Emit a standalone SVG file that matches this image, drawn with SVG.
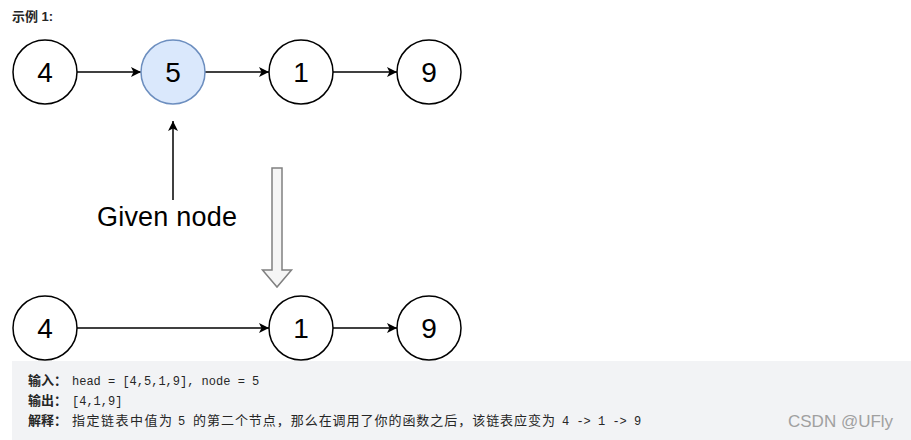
<svg xmlns="http://www.w3.org/2000/svg" width="911" height="440" viewBox="0 0 911 440">
<style>
.node{fill:#ffffff;stroke:#000000;stroke-width:1.5}
.sel{fill:#dae8fc;stroke:#6c8ebf;stroke-width:1.5}
.lbl{font-family:"Liberation Sans",Arial,sans-serif;font-size:28px;fill:#000000;text-anchor:middle}
.edge{stroke:#000000;stroke-width:1.5;fill:none}
.b{font-family:"Liberation Sans","Noto Sans CJK SC",sans-serif;font-size:13px;font-weight:bold;fill:#262626}
.cn{font-family:"Noto Sans CJK SC",sans-serif;font-size:13px;fill:#262626}
.code{font-family:"Liberation Mono","DejaVu Sans Mono",monospace;font-size:12px;fill:#262626}
</style>
<defs>
<marker id="ah" viewBox="0 0 10 10" refX="10" refY="5" markerWidth="10" markerHeight="10" markerUnits="userSpaceOnUse" orient="auto">
<path d="M0,0 L10,5 L0,10 L2.5,5 Z" fill="#000000"/>
</marker>
</defs>
<rect width="911" height="440" fill="#ffffff"/>
<text x="12" y="21" class="b">示例 1:</text>
<g id="connectors">
<line class="edge" x1="77" y1="72" x2="141" y2="72" marker-end="url(#ah)"/>
<line class="edge" x1="205" y1="72" x2="269" y2="72" marker-end="url(#ah)"/>
<line class="edge" x1="333" y1="72" x2="397" y2="72" marker-end="url(#ah)"/>
<line class="edge" x1="173" y1="200" x2="173" y2="121" marker-end="url(#ah)"/>
<line class="edge" x1="77" y1="328" x2="269" y2="328" marker-end="url(#ah)"/>
<line class="edge" x1="333" y1="328" x2="397" y2="328" marker-end="url(#ah)"/>
</g>
<g id="n4a"><circle class="node" cx="45" cy="72" r="32"/><text class="lbl" x="45" y="82">4</text></g>
<g id="n5a"><circle class="sel" cx="173" cy="72" r="32"/><text class="lbl" x="173" y="82">5</text></g>
<g id="n1a"><circle class="node" cx="301" cy="72" r="32"/><text class="lbl" x="301" y="82">1</text></g>
<g id="n9a"><circle class="node" cx="429" cy="72" r="32"/><text class="lbl" x="429" y="82">9</text></g>
<g id="given"><text x="167" y="226" font-family="Liberation Sans,Arial,sans-serif" font-size="27" text-anchor="middle" fill="#000" textLength="140">Given node</text></g>
<g id="bigarrow"><path d="M272,168 L282,168 L282,270 L291.5,270 L277,287 L262.5,270 L272,270 Z" fill="#f5f5f5" stroke="#808080" stroke-width="1.5"/></g>
<g id="n4b"><circle class="node" cx="45" cy="328" r="32"/><text class="lbl" x="45" y="338">4</text></g>
<g id="n1b"><circle class="node" cx="301" cy="328" r="32"/><text class="lbl" x="301" y="338">1</text></g>
<g id="n9b"><circle class="node" cx="429" cy="328" r="32"/><text class="lbl" x="429" y="338">9</text></g>
<rect x="12" y="361" width="899" height="79" fill="#f2f3f5"/>
<text x="28" y="385" class="b">输入：</text>
<text x="72" y="385" class="code">head = [4,5,1,9], node = 5</text>
<text x="28" y="405" class="b">输出：</text>
<text x="72" y="405" class="code">[4,1,9]</text>
<text x="28" y="425" class="b">解释：</text>
<text x="72" y="425" class="cn" textLength="100">指定链表中值为</text>
<text x="178" y="425" class="code">5</text>
<text x="193" y="425" class="cn" textLength="362">的第二个节点，那么在调用了你的函数之后，该链表应变为</text>
<text x="562" y="425" class="code">4 -&gt; 1 -&gt; 9</text>
<text x="788" y="427" font-family="Liberation Sans,Arial,sans-serif" font-size="17" fill="#a0a0a0">CSDN @UFly</text>
</svg>
